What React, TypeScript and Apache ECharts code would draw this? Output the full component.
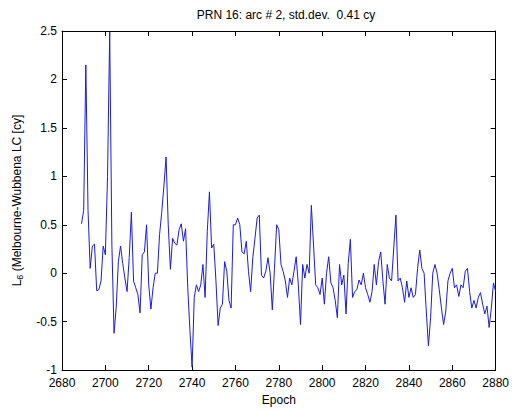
import React, { useEffect, useRef } from "react";
import * as echarts from "echarts";

const titleText = "PRN 16: arc # 2, std.dev.  0.41 cy";
const xName = "Epoch";
const xTicks = [2680, 2700, 2720, 2740, 2760, 2780, 2800, 2820, 2840, 2860, 2880];
const yTicks = [-1, -0.5, 0, 0.5, 1, 1.5, 2, 2.5];
const firstEpoch = 2689;

// L6 values, one per epoch starting at 2689
const values: number[] = [
  // 2689-2698
  0.51, 0.65, 2.15, 0.65, 0.05, 0.28, 0.3, -0.18, -0.17, -0.08,
  // 2699-2708
  0.28, 0.19, 1.0, 2.49, 0.3, -0.62, -0.35, 0.12, 0.28, 0.1,
  // 2709-2718
  -0.05, -0.19, 0.16, 0.63, -0.08, -0.15, -0.22, -0.41, 0.19, 0.22,
  // 2719-2728
  0.5, -0.12, -0.37, -0.15, 0.0, 0.0, 0.4, 0.63, 0.9, 1.2,
  // 2729-2738
  0.5, 0.04, 0.36, 0.31, 0.29, 0.45, 0.51, 0.33, 0.46, -0.15,
  // 2739-2748
  -0.59, -0.97, -0.25, -0.12, -0.19, -0.12, 0.09, -0.25, 0.43, 0.84,
  // 2749-2758
  0.26, 0.3, -0.08, -0.54, -0.36, -0.32, 0.12, 0.02, -0.28, -0.36,
  // 2759-2768
  0.5, 0.5, 0.57, 0.5, 0.22, 0.2, 0.33, 0.02, -0.19, 0.16,
  // 2769-2778
  0.36, 0.57, 0.6, -0.02, -0.05, 0.02, 0.16, 0.0, -0.38, 0.05,
  // 2779-2788
  0.5, 0.45, 0.09, 0.02, -0.08, -0.25, -0.05, -0.12, 0.02, 0.17,
  // 2789-2798
  -0.12, -0.53, 0.09, -0.05, 0.09, 0.0, 0.7, 0.29, -0.12, -0.15,
  // 2799-2808
  -0.22, -0.05, -0.32, 0.0, 0.17, -0.1, -0.15, -0.28, -0.46, 0.09,
  // 2809-2818
  -0.12, -0.02, -0.42, 0.1, 0.35, -0.25, -0.19, -0.17, -0.07, -0.12,
  // 2819-2828
  0.0, -0.15, -0.22, -0.3, -0.19, 0.09, -0.12, 0.12, 0.22, -0.08,
  // 2829-2838
  -0.32, 0.09, -0.05, -0.08, 0.26, 0.6, -0.08, -0.05, -0.15, -0.3,
  // 2839-2848
  -0.08, -0.25, -0.15, -0.25, -0.22, 0.05, 0.24, 0.05, 0.0, -0.39,
  // 2849-2858
  -0.75, -0.46, 0.0, 0.09, 0.0, -0.17, -0.36, -0.53, -0.39, -0.08,
  // 2859-2868
  0.0, 0.05, -0.15, -0.12, -0.24, -0.12, -0.15, 0.02, 0.05, -0.19,
  // 2869-2878
  -0.36, -0.28, -0.36, -0.25, -0.2, -0.32, -0.42, -0.34, -0.56, -0.36,
  // 2879-2880
  -0.1, -0.19,
];

const FONT = "Liberation Sans, Arial, sans-serif";

export default function App() {
  const ref = useRef<HTMLDivElement>(null);
  useEffect(() => {
    if (!ref.current) return;
    const chart = echarts.init(ref.current, null, { renderer: "svg" });
    const data = values.map((v, i) => [firstEpoch + i, v]);
    const xMin = xTicks[0];
    const xMax = xTicks[xTicks.length - 1];
    const yMin = yTicks[0];
    const yMax = yTicks[yTicks.length - 1];
    const axisCommon = {
      axisLine: { show: true, onZero: false, lineStyle: { color: "#000", width: 1 } },
      axisTick: { show: true, inside: true, length: 5, lineStyle: { color: "#000" } },
      splitLine: { show: false },
    };
    chart.setOption({
      animation: false,
      backgroundColor: "#fff",
      title: {
        text: titleText,
        left: 281,
        textAlign: "center",
        top: 4,
        textStyle: { fontFamily: FONT, fontSize: 12, fontWeight: "normal", color: "#000" },
      },
      grid: { left: 62, right: 13, top: 31, bottom: 38, containLabel: false },
      xAxis: [
        {
          type: "value",
          min: xMin,
          max: xMax,
          interval: 20,
          position: "bottom",
          name: xName,
          nameLocation: "middle",
          nameGap: 19,
          nameTextStyle: { fontFamily: FONT, fontSize: 12, color: "#000" },
          axisLabel: {
            fontFamily: FONT,
            fontSize: 12,
            color: "#000",
            margin: 7,
            formatter: (v: number) => String(v),
          },
          ...axisCommon,
        },
        {
          type: "value",
          min: xMin,
          max: xMax,
          interval: 20,
          position: "top",
          axisLabel: { show: false },
          ...axisCommon,
        },
      ],
      yAxis: [
        {
          type: "value",
          min: yMin,
          max: yMax,
          interval: 0.5,
          position: "left",
          name: "{m|L}{s|6} {m|(Melbourne-Wubbena LC [cy]}",
          nameLocation: "middle",
          nameGap: 38,
          nameRotate: 90,
          nameTextStyle: {
            fontFamily: FONT,
            fontSize: 12,
            color: "#000",
            rich: {
              m: { fontFamily: FONT, fontSize: 12, color: "#000" },
              s: { fontFamily: FONT, fontSize: 9, color: "#000", verticalAlign: "bottom", padding: [6, 0, 0, 0] },
            },
          },
          axisLabel: { fontFamily: FONT, fontSize: 12, color: "#000", margin: 5 },
          ...axisCommon,
        },
        {
          type: "value",
          min: yMin,
          max: yMax,
          interval: 0.5,
          position: "right",
          axisLabel: { show: false },
          ...axisCommon,
        },
      ],
      series: [
        {
          type: "line",
          data,
          xAxisIndex: 0,
          yAxisIndex: 0,
          showSymbol: false,
          symbol: "none",
          lineStyle: { color: "#1a1ae6", width: 1 },
          clip: true,
        },
      ],
    });
    return () => chart.dispose();
  }, []);
  return (
    <div
      ref={ref}
      style={{ position: "absolute", left: 0, top: 0, width: 512, height: 411, background: "#fff" }}
    />
  );
}
